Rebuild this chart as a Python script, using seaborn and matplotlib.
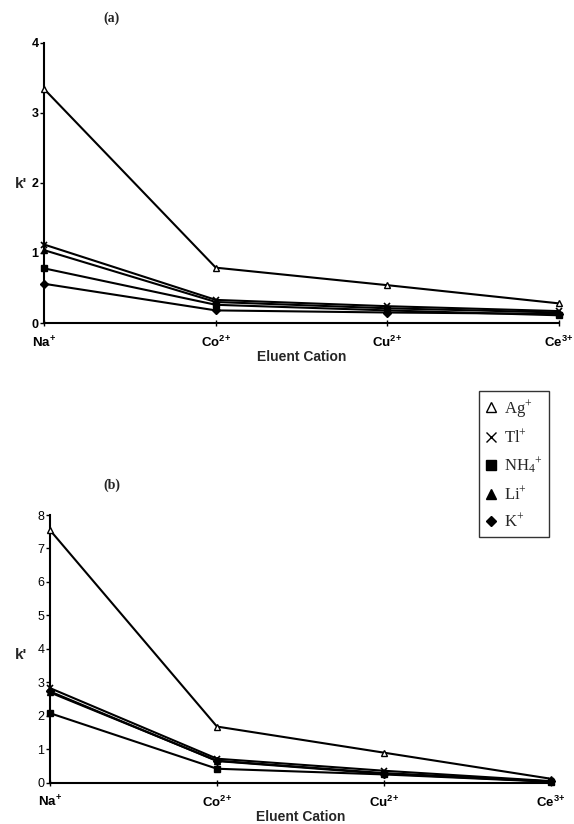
import matplotlib
matplotlib.use("Agg")
import matplotlib.pyplot as plt
from matplotlib.lines import Line2D
import seaborn as sns
import pandas as pd

# eluent cations (x categories)
cations = ["Na$^{+}$", "Co$^{2}$$^{+}$", "Cu$^{2}$$^{+}$", "Ce$^{3}$$^{+}$"]

# analyte ions (legend)
ions = ["Ag$^{+}$", "Tl$^{+}$", "NH$_4$$^{+}$", "Li$^{+}$", "K$^{+}$"]
ion_markers = ["^", "x", "s", "^", "D"]
ion_fill = ["white", "black", "black", "black", "black"]

# panel (a) k' values
a_ag = [3.34, 0.79, 0.54, 0.28]
a_tl = [1.12, 0.33, 0.24, 0.17]
a_nh4 = [0.78, 0.26, 0.18, 0.11]
a_li = [1.04, 0.30, 0.21, 0.15]
a_k = [0.56, 0.18, 0.15, 0.13]

# panel (b) k' values
b_ag = [7.55, 1.68, 0.90, 0.12]
b_tl = [2.83, 0.72, 0.36, 0.05]
b_nh4 = [2.08, 0.42, 0.25, 0.03]
b_li = [2.70, 0.66, 0.29, 0.04]
b_k = [2.73, 0.65, 0.27, 0.04]

sns.set_theme(style="white")
plt.rcParams["font.family"] = ["Liberation Sans", "DejaVu Sans"]
plt.rcParams["mathtext.default"] = "regular"


def make_df(series):
    rows = []
    for ion, vals in zip(ions, series):
        for c, v in zip(cations, vals):
            rows.append({"cation": c, "ion": ion, "k": v})
    return pd.DataFrame(rows)


def draw(ax, df, ymax, ybold):
    for i, ion in enumerate(ions):
        sub = df[df["ion"] == ion]
        m = ion_markers[i]
        sns.lineplot(data=sub, x="cation", y="k", ax=ax, color="black",
                     lw=1.5, marker=m, markersize=5 if m != "D" else 4.5,
                     markerfacecolor=ion_fill[i], markeredgecolor="black",
                     markeredgewidth=1.0 if m != "x" else 1.2,
                     clip_on=False, zorder=3)
    ax.set_xlim(0, 3)
    ax.set_ylim(0, ymax)
    ax.set_yticks(range(0, ymax + 1))
    for s in ["top", "right"]:
        ax.spines[s].set_visible(False)
    for s in ["left", "bottom"]:
        ax.spines[s].set_color("black")
        ax.spines[s].set_linewidth(1.5)
    ax.tick_params(axis="y", direction="out", length=3, width=1, colors="black",
                   labelsize=9, pad=1, left=True)
    ax.tick_params(axis="x", direction="inout", length=5, width=1, colors="black",
                   labelsize=9.5, pad=6, bottom=True)
    for lab in ax.get_xticklabels():
        lab.set_fontweight("bold")
    if ybold:
        for lab in ax.get_yticklabels():
            lab.set_fontweight("bold")
    ax.set_xlabel("Eluent Cation", fontsize=10, fontweight="bold", labelpad=0)
    ax.set_ylabel("k'", fontsize=11, fontweight="bold", rotation=0, labelpad=8)


fig = plt.figure(figsize=(5.74, 8.24), dpi=100)
ax1 = fig.add_axes([0.077, 0.608, 0.897, 0.340])
ax2 = fig.add_axes([0.087, 0.050, 0.873, 0.325])

draw(ax1, make_df([a_ag, a_tl, a_nh4, a_li, a_k]), 4, True)
draw(ax2, make_df([b_ag, b_tl, b_nh4, b_li, b_k]), 8, False)
ax1.yaxis.set_label_coords(-0.045, 0.47)
ax2.yaxis.set_label_coords(-0.058, 0.45)

fig.text(0.195, 0.978, "(a)", family="Liberation Serif", fontweight="bold",
         fontsize=10, ha="center", va="center")
fig.text(0.195, 0.411, "(b)", family="Liberation Serif", fontweight="bold",
         fontsize=10, ha="center", va="center")

handles = [Line2D([], [], ls="none", marker=m, color="black",
                  markerfacecolor=f, markersize=7 if m != "D" else 5.5)
           for m, f in zip(ion_markers, ion_fill)]
leg = fig.legend(handles, ions, loc="upper left", bbox_to_anchor=(0.834, 0.5255),
                 frameon=True, fancybox=False, edgecolor="black",
                 prop={"family": "Liberation Serif", "size": 12},
                 labelspacing=0.55, handlelength=0.65, handletextpad=0.45,
                 borderpad=0.4, borderaxespad=0)
leg.get_frame().set_linewidth(1.0)

fig.savefig("out.png", dpi=100)
